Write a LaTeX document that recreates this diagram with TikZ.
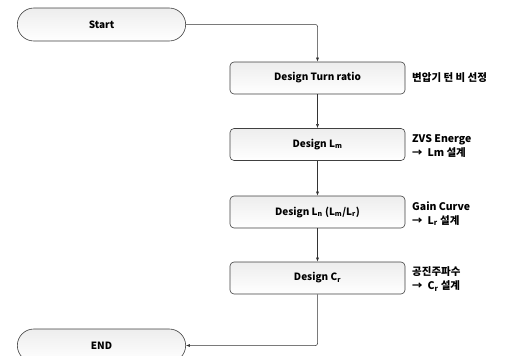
\documentclass[tikz,border=0pt]{standalone}
\usepackage{fontspec}
\setmainfont{Noto Sans CJK KR}
\usetikzlibrary{positioning, shapes.misc, arrows.meta}

\begin{document}
\begin{tikzpicture}[
  x=1pt, y=-1pt,
  font=\fontsize{10}{12}\selectfont\bfseries,
  terminal/.style={rounded rectangle, draw=black!75, line width=0.6pt, minimum width=175pt, minimum height=33pt, top color=gray!14, bottom color=white},
  process/.style={rectangle, rounded corners=4pt, draw=black!75, line width=0.6pt, minimum width=175pt, minimum height=32pt, top color=gray!14, bottom color=white},
  note/.style={align=left, anchor=west, inner sep=0pt, font=\fontsize{10.5}{14}\selectfont\bfseries},
  flow/.style={->, line width=0.5pt, draw=black!80, rounded corners=2pt},
  >={Latex[length=4pt,width=3pt]},
]
\useasboundingbox (0,0) rectangle (507,356);

% Terminals
\node[terminal] (start) at (101.5,24.5) {Start};
\node[terminal] (end) at (101.5,345.5) {END};

% Design steps
\node[process] (turn) at (317.5,78) {Design Turn ratio};
\node[process] (lm) at (317.5,144.5) {Design L\textsubscript{m}};
\node[process] (ln) at (317.5,212) {Design L\textsubscript{n} (L\textsubscript{m}/L\textsubscript{r})};
\node[process] (cr) at (317.5,278) {Design C\textsubscript{r}};

% Notes
\node[note] (turnnote) at (412,78) {변압기 턴 비 선정};
\node[note] (lmnote) at (412,146.5) {ZVS Energe\\→\ \ Lm 설계};
\node[note] (lnnote) at (412,213.5) {Gain Curve\\→\ \ L\textsubscript{r} 설계};
\node[note] (crnote) at (412,279) {공진주파수\\→\ \ C\textsubscript{r} 설계};

% Flow
\draw[flow] (start.east) -| (turn.north);
\draw[flow] (turn) -- (lm);
\draw[flow] (lm) -- (ln);
\draw[flow] (ln) -- (cr);
\draw[flow] (cr.south) |- (end.east);
\end{tikzpicture}
\end{document}
